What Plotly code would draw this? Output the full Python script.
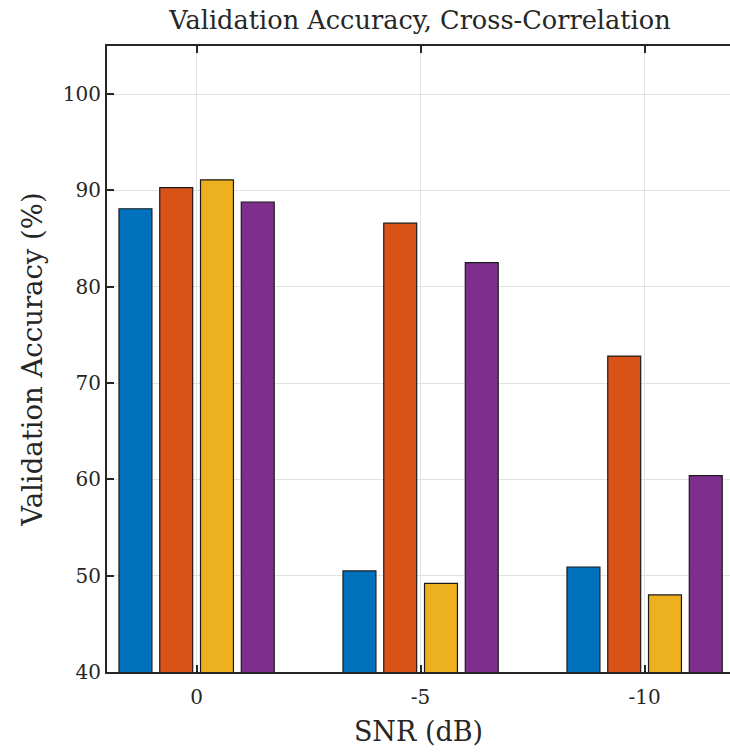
import plotly.graph_objects as go

# Data
snr_labels = ["0", "-5", "-10"]
group_pos = [1, 2, 3]
series_a = [88.1, 50.5, 50.9]
series_b = [90.3, 86.6, 72.8]
series_c = [91.1, 49.2, 48.0]
series_d = [88.8, 82.5, 60.4]
series_names = ["Series 1", "Series 2", "Series 3", "Series 4"]
colors = ["#0072BD", "#D95319", "#EDB120", "#7E2F8E"]
y_ticks = [40, 50, 60, 70, 80, 90, 100]

FONT = "DejaVu Serif"
TXT = "#262626"

fig = go.Figure()
for name, vals, col in zip(series_names, [series_a, series_b, series_c, series_d], colors):
    fig.add_trace(go.Bar(
        x=group_pos, y=vals, name=name,
        marker=dict(color=col, line=dict(color="#1a1a1a", width=1.2)),
        showlegend=False,
    ))

W, H = 730, 752
L, R, T, B = 107, 0, 46, 80
px_per_unit = 224.0
xr0 = 0.6
xr1 = xr0 + (W - L - R) / px_per_unit

fig.update_layout(
    width=W, height=H,
    margin=dict(l=L, r=R, t=T, b=B),
    paper_bgcolor="white", plot_bgcolor="white",
    barmode="group", bargap=0.272, bargroupgap=0.192,
    font=dict(family=FONT, size=20, color=TXT),
    title=dict(text="Validation Accuracy, Cross-Correlation",
               x=(L + 313) / W, xanchor="center",
               y=1 - 20 / H, yanchor="middle", yref="container",
               font=dict(family=FONT, size=25.6, color=TXT)),
    xaxis=dict(
        range=[xr0, xr1], tickvals=group_pos, ticktext=snr_labels,
        ticks="inside", ticklen=7, tickwidth=1.5, tickcolor=TXT,
        showline=True, linecolor=TXT, linewidth=2, mirror="ticks",
        showgrid=True, gridcolor="#e3e3e3", gridwidth=1.2,
        zeroline=False, ticklabelstandoff=6,
        tickfont=dict(family=FONT, size=20, color=TXT),
        title=dict(text="SNR (dB)", standoff=14,
                   font=dict(family=FONT, size=27, color=TXT)),
    ),
    yaxis=dict(
        range=[40, 105], tickvals=y_ticks,
        ticks="inside", ticklen=7, tickwidth=1.5, tickcolor=TXT,
        showline=True, linecolor=TXT, linewidth=2, mirror=False,
        showgrid=True, gridcolor="#e3e3e3", gridwidth=1.2,
        zeroline=False, ticklabelstandoff=0,
        tickfont=dict(family=FONT, size=20, color=TXT),
        title=dict(text="Validation Accuracy (%)", standoff=12,
                   font=dict(family=FONT, size=27.5, color=TXT)),
    ),
    yaxis2=dict(
        overlaying="y", side="right", range=[40, 105], tickvals=y_ticks,
        ticks="inside", ticklen=3, tickwidth=1.5, tickcolor=TXT,
        showline=False, showgrid=False, zeroline=False, showticklabels=False,
    ),
)

fig.write_html("out.html")
